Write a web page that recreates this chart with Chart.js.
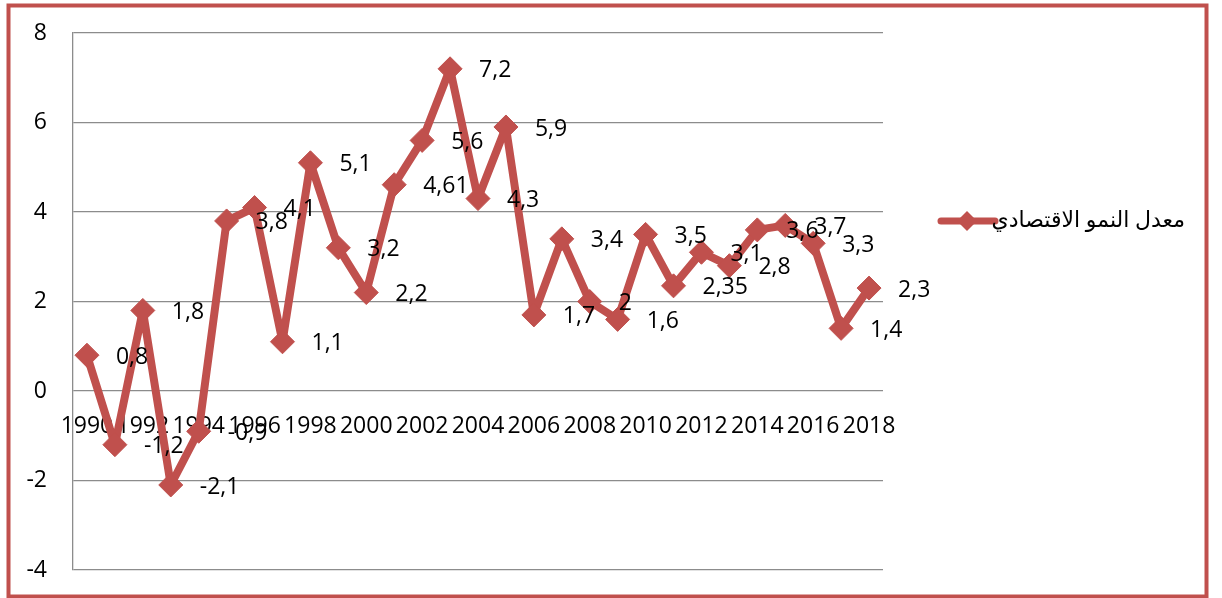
<!DOCTYPE html>
<html lang="ar">
<head>
    <meta charset="UTF-8">
    <title>معدل النمو الاقتصادي</title>
    <style>
        * { margin: 0; padding: 0; box-sizing: border-box; }
        body { background: #ffffff; }
        .chart-box { position: relative; width: 1222px; height: 598px; }
    </style>
    <script src="https://cdn.jsdelivr.net/npm/chart.js@4.4.1/dist/chart.umd.min.js"></script>
</head>
<body>
    <div class="chart-box">
        <canvas id="growthChart"></canvas>
    </div>

    <script>
        // Data
        const years = [1990, 1991, 1992, 1993, 1994, 1995, 1996, 1997, 1998, 1999,
                       2000, 2001, 2002, 2003, 2004, 2005, 2006, 2007, 2008, 2009,
                       2010, 2011, 2012, 2013, 2014, 2015, 2016, 2017, 2018];
        const growth = [0.8, -1.2, 1.8, -2.1, -0.9, 3.8, 4.1, 1.1, 5.1, 3.2,
                        2.2, 4.61, 5.6, 7.2, 4.3, 5.9, 1.7, 3.4, 2, 1.6,
                        3.5, 2.35, 3.1, 2.8, 3.6, 3.7, 3.3, 1.4, 2.3];
        const shownYears = [1990, 1992, 1994, 1996, 1998, 2000, 2002, 2004,
                            2006, 2008, 2010, 2012, 2014, 2016, 2018];
        const yMin = -4, yMax = 8, yStep = 2;
        const seriesName = 'معدل النمو الاقتصادي';

        const red = '#C0504D';
        const gridGray = '#8c8c8c';
        const fontFamily = "'Open Sans', 'DejaVu Sans', sans-serif";

        // red frame around the whole chart
        const framePlugin = {
            id: 'frame',
            beforeDraw(chart) {
                const ctx = chart.ctx;
                ctx.save();
                ctx.strokeStyle = red;
                ctx.lineWidth = 4;
                ctx.strokeRect(8.5, 5.5, 1198, 591);
                ctx.restore();
            }
        };

        // value labels to the right of each point, decimal comma
        const valueLabels = {
            id: 'valueLabels',
            afterDatasetsDraw(chart) {
                const ctx = chart.ctx;
                const meta = chart.getDatasetMeta(0);
                ctx.save();
                ctx.font = '23px ' + fontFamily;
                ctx.fillStyle = '#000';
                ctx.textAlign = 'left';
                ctx.textBaseline = 'middle';
                meta.data.forEach((pt, i) => {
                    const txt = String(chart.data.datasets[0].data[i]).replace('.', ',');
                    ctx.fillText(txt, pt.x + 29, pt.y + 2);
                });
                ctx.restore();
            }
        };

        // Excel style legend: line with diamond, then the name
        const lineLegend = {
            id: 'lineLegend',
            afterDraw(chart) {
                const ctx = chart.ctx;
                const y = 221;
                ctx.save();
                ctx.strokeStyle = red;
                ctx.fillStyle = red;
                ctx.lineWidth = 7;
                ctx.lineCap = 'round';
                ctx.beginPath();
                ctx.moveTo(941, y);
                ctx.lineTo(995, y);
                ctx.stroke();
                ctx.beginPath();
                ctx.moveTo(967, y - 10);
                ctx.lineTo(977, y);
                ctx.lineTo(967, y + 10);
                ctx.lineTo(957, y);
                ctx.closePath();
                ctx.fill();
                ctx.fillStyle = '#000';
                ctx.font = '22px ' + fontFamily;
                ctx.textAlign = 'right';
                ctx.textBaseline = 'middle';
                ctx.fillText(chart.data.datasets[0].label, 1185, y);
                ctx.restore();
            }
        };

        new Chart(document.getElementById('growthChart'), {
            type: 'line',
            data: {
                labels: years,
                datasets: [{
                    label: seriesName,
                    data: growth,
                    borderColor: red,
                    backgroundColor: red,
                    borderWidth: 8,
                    borderJoinStyle: 'round',
                    borderCapStyle: 'round',
                    tension: 0,
                    fill: false,
                    pointStyle: 'rectRot',
                    pointRadius: 12,
                    pointBorderWidth: 1,
                    pointBackgroundColor: red,
                    pointBorderColor: red
                }]
            },
            options: {
                responsive: true,
                maintainAspectRatio: false,
                animation: false,
                layout: { padding: { top: 33, bottom: 28, left: 0, right: 339 } },
                plugins: {
                    legend: { display: false },
                    tooltip: { enabled: false }
                },
                scales: {
                    x: {
                        type: 'category',
                        offset: true,
                        position: { y: 0 },
                        grid: { display: false },
                        border: { display: false },
                        ticks: {
                            autoSkip: false,
                            minRotation: 0,
                            maxRotation: 0,
                            padding: 14,
                            color: '#000',
                            font: { family: fontFamily, size: 23 },
                            callback: function (val, i) {
                                return shownYears.includes(years[i]) ? String(years[i]) : '';
                            }
                        }
                    },
                    y: {
                        min: yMin,
                        max: yMax,
                        afterFit(scale) { scale.width = 73; },
                        grid: {
                            color: gridGray,
                            lineWidth: 1.3,
                            drawTicks: true,
                            tickLength: 26,
                            tickColor: 'rgba(0,0,0,0)'
                        },
                        border: { display: true, color: gridGray, width: 1.3 },
                        ticks: {
                            stepSize: yStep,
                            padding: 0,
                            color: '#000',
                            font: { family: fontFamily, size: 23 }
                        }
                    }
                }
            },
            plugins: [framePlugin, valueLabels, lineLegend]
        });
    </script>
</body>
</html>
